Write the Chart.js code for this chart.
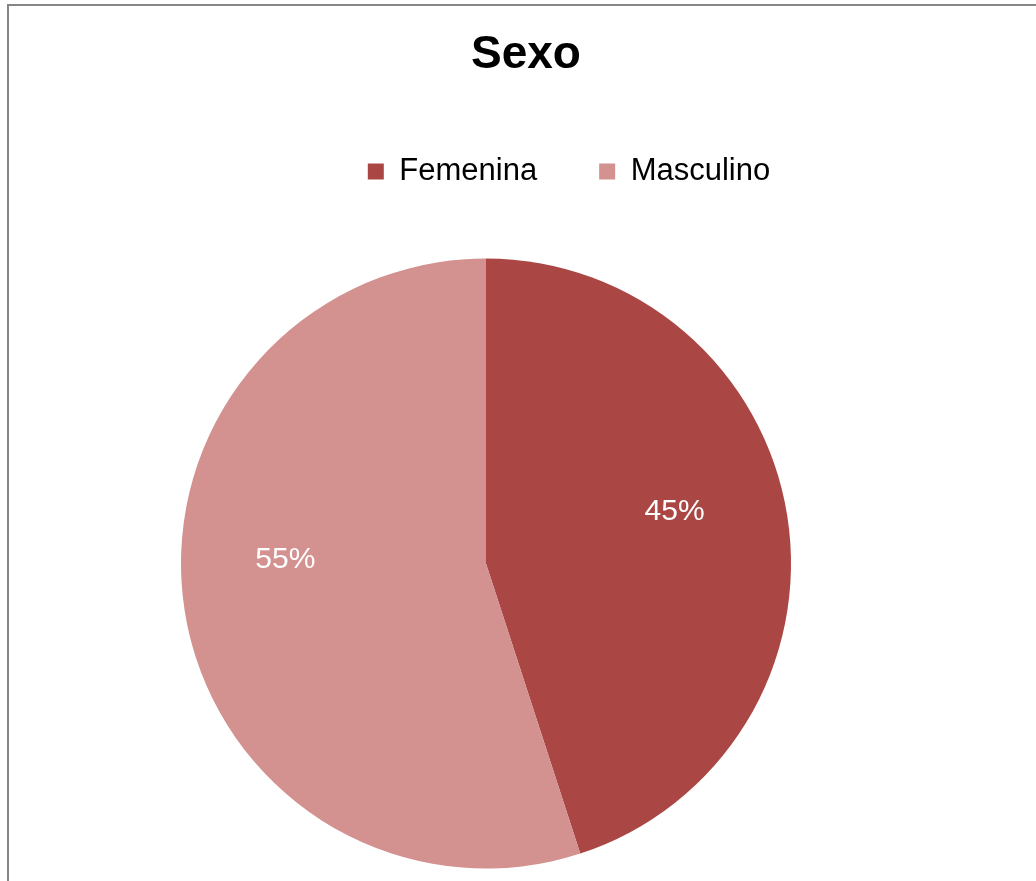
<!DOCTYPE html>
<html lang="es">
<head>
<meta charset="utf-8">
<title>Sexo</title>
<script src="https://cdn.jsdelivr.net/npm/chart.js@4/dist/chart.umd.min.js"></script>
<style>
  html, body { margin: 0; padding: 0; background: #fff; overflow: hidden; }
  #marco {
    position: absolute; left: 7px; top: 4px; width: 1100px; height: 1000px;
    border-top: 2px solid #868686; border-left: 2px solid #868686;
  }
  #contenedor { position: absolute; left: 0; top: 0; width: 1036px; height: 930px; }
</style>
</head>
<body>
<div id="marco"></div>
<div id="contenedor"><canvas id="graficoSexo"></canvas></div>
<script>
// Datos
const categorias = ["Femenina", "Masculino"];
const porcentajes = [45, 55];
const colores = ["#AA4644", "#D39190"];

const fuente = "'Liberation Sans', Arial, sans-serif";

// Etiquetas de porcentaje dentro de cada porción
const etiquetasPorcentaje = {
  id: "etiquetasPorcentaje",
  afterDatasetsDraw(chart) {
    const ctx = chart.ctx;
    const meta = chart.getDatasetMeta(0);
    const total = porcentajes.reduce((a, b) => a + b, 0);
    ctx.save();
    ctx.font = "30px " + fuente;
    ctx.fillStyle = "#ffffff";
    ctx.textAlign = "center";
    ctx.textBaseline = "middle";
    meta.data.forEach((arco, i) => {
      const { x, y, startAngle, endAngle, outerRadius } = arco.getProps(
        ["x", "y", "startAngle", "endAngle", "outerRadius"], true);
      const medio = (startAngle + endAngle) / 2;
      const texto = Math.round((porcentajes[i] / total) * 100) + "%";
      const lx = x + Math.cos(medio) * outerRadius * 0.646 - 6;
      const ly = y + Math.sin(medio) * outerRadius * 0.5 - 28;
      ctx.fillText(texto, lx, ly);
    });
    ctx.restore();
  },
};

// El título y la leyenda van algo a la derecha del centro de la torta
const desplazarCabecera = {
  id: "desplazarCabecera",
  afterLayout(chart) {
    chart.titleBlock.left += 40;
    chart.titleBlock.right += 40;
    chart.legend.left += 83;
    chart.legend.right += 83;
  },
};

const ctx = document.getElementById("graficoSexo");
const grafico = new Chart(ctx, {
  type: "pie",
  data: {
    labels: categorias,
    datasets: [
      {
        data: porcentajes,
        backgroundColor: colores,
        borderWidth: 0,
        radius: 305,
        clip: false,
      },
    ],
  },
  options: {
    responsive: true,
    maintainAspectRatio: false,
    devicePixelRatio: 1,
    animation: false,
    layout: { padding: { left: 0, right: 64, top: 0, bottom: 0 } },
    plugins: {
      title: {
        display: true,
        text: "Sexo",
        color: "#000",
        font: { family: fuente, size: 46, weight: "bold", lineHeight: 1.2 },
        padding: { top: 28, bottom: 10.8 },
      },
      legend: {
        position: "top",
        labels: {
          color: "#000",
          font: { family: fuente, size: 31 },
          boxWidth: 16,
          boxHeight: 16,
          padding: 62,
        },
      },
      tooltip: { enabled: false },
    },
  },
  plugins: [etiquetasPorcentaje, desplazarCabecera],
});
</script>
</body>
</html>
